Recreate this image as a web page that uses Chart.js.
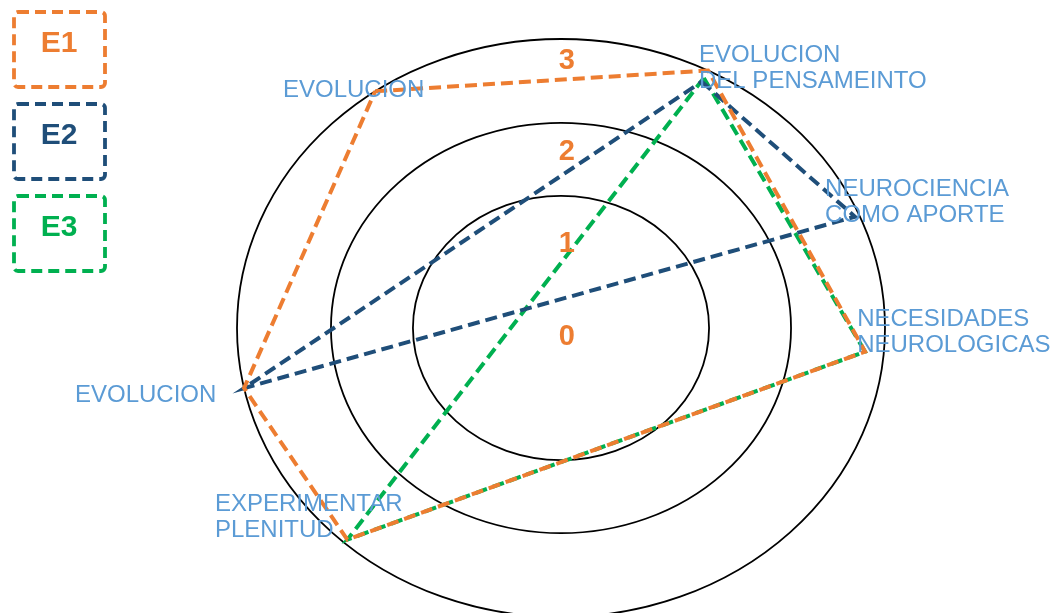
<!DOCTYPE html>
<html>
<head>
<meta charset="utf-8">
<script src="https://cdn.jsdelivr.net/npm/chart.js@4.4.1/dist/chart.umd.min.js"></script>
<style>
  html, body { margin: 0; padding: 0; background: #fff; }
</style>
</head>
<body>
<canvas id="radar" width="1057" height="613"></canvas>
<script>
// categories, clockwise starting at the upper-left spoke
const categories = [
    ['EVOLUCION'],
    ['EVOLUCION', 'DEL PENSAMEINTO'],
    ['NEUROCIENCIA', 'COMO APORTE'],
    ['NECESIDADES', 'NEUROLOGICAS'],
    ['EXPERIMENTAR', 'PLENITUD'],
    ['EVOLUCION'],
];

const seriesNames = ['E1', 'E2', 'E3'];
// score per category (0 - 3), null where the series has no point
const e1Values = [3, 3, null, 2.8, 2.95, 3];
const e2Values = [null, 2.85, 2.95, null, null, 3];
const e3Values = [null, 2.9, null, 2.8, 2.95, null];

const levelLabels = ['0', '1', '2', '3'];

// ---- layout ----
const spokeAngles = [125, 63, 23, -5, -132, 192];   // degrees, ccw from east
const ringRadius = [0, 0.457, 0.71, 1];              // radius of each level ring (outer = 1)
const levelLabelY = [-0.03, 0.29, 0.61, 0.925];
const labelPos = [
    [-0.858, 0.799], [0.426, 0.920], [0.815, 0.457],
    [0.914, 0.007], [-1.068, -0.633], [-1.5, -0.256],
];
const colors = ['#ED7D31', '#1F4E79', '#00B050'];
const labelBlue = '#5B9BD5';
const FONT = '"Liberation Sans", Arial, sans-serif';

// level -> radius, linear between the rings
const radiusOf = (v) => {
    const i = Math.min(Math.floor(v), ringRadius.length - 2);
    return ringRadius[i] + (v - i) * (ringRadius[i + 1] - ringRadius[i]);
};

const toPoints = (values) => {
    const pts = [];
    values.forEach((v, i) => {
        if (v === null) return;
        const a = spokeAngles[i] * Math.PI / 180;
        const r = radiusOf(v);
        pts.push({ x: r * Math.cos(a), y: r * Math.sin(a) });
    });
    pts.push(pts[0]); // close the shape
    return pts;
};

const rings = {
    id: 'rings',
    beforeDatasetsDraw(chart) {
        const { ctx, scales: { x, y } } = chart;
        const cx = x.getPixelForValue(0), cy = y.getPixelForValue(0);
        ctx.save();
        ctx.strokeStyle = '#000';
        ctx.lineWidth = 1.8;
        ringRadius.slice(1).forEach((r) => {
            const rx = x.getPixelForValue(r) - cx;
            const ry = cy - y.getPixelForValue(r);
            ctx.beginPath();
            ctx.ellipse(cx, cy, rx, ry, 0, 0, Math.PI * 2);
            ctx.stroke();
        });
        ctx.restore();
    },
    afterDatasetsDraw(chart) {
        const { ctx, scales: { x, y } } = chart;
        ctx.save();

        // category names
        ctx.fillStyle = labelBlue;
        ctx.font = '24px ' + FONT;
        ctx.textAlign = 'left';
        ctx.textBaseline = 'alphabetic';
        categories.forEach((lines, i) => {
            const px = x.getPixelForValue(labelPos[i][0]);
            const py = y.getPixelForValue(labelPos[i][1]);
            lines.forEach((t, k) => ctx.fillText(t, px, py + k * 26));
        });

        // level numbers
        ctx.fillStyle = colors[0];
        ctx.font = 'bold 29px ' + FONT;
        ctx.textAlign = 'center';
        ctx.textBaseline = 'middle';
        levelLabels.forEach((t, i) => {
            ctx.fillText(t, x.getPixelForValue(0.018), y.getPixelForValue(levelLabelY[i]));
        });

        // legend boxes
        chart.data.datasets.forEach((ds, i) => {
            const top = 12 + i * 92;
            ctx.strokeStyle = ds.borderColor;
            ctx.lineWidth = 3.8;
            ctx.setLineDash([11, 6]);
            ctx.beginPath();
            ctx.roundRect(14, top, 91, 75, 4);
            ctx.stroke();
            ctx.setLineDash([]);
            ctx.fillStyle = ds.borderColor;
            ctx.font = 'bold 30px ' + FONT;
            ctx.fillText(ds.label, 59, top + 32);
        });
        ctx.restore();
    }
};

new Chart(document.getElementById('radar'), {
    type: 'scatter',
    data: {
        datasets: [e1Values, e2Values, e3Values].map((vals, i) => ({
            label: seriesNames[i],
            data: toPoints(vals),
            showLine: true,
            borderColor: colors[i],
            borderWidth: 4,
            borderDash: [12, 6],
            pointRadius: 0,
            tension: 0,
            fill: false,
        })),
    },
    options: {
        responsive: false,
        animation: false,
        devicePixelRatio: 1,
        layout: { padding: 0 },
        scales: {
            x: { display: false, min: -1.7315, max: 1.5309 },
            y: { display: false, min: -0.9862, max: 1.1349 },
        },
        plugins: { legend: { display: false }, tooltip: { enabled: false } },
    },
    plugins: [rings],
});
</script>
</body>
</html>
